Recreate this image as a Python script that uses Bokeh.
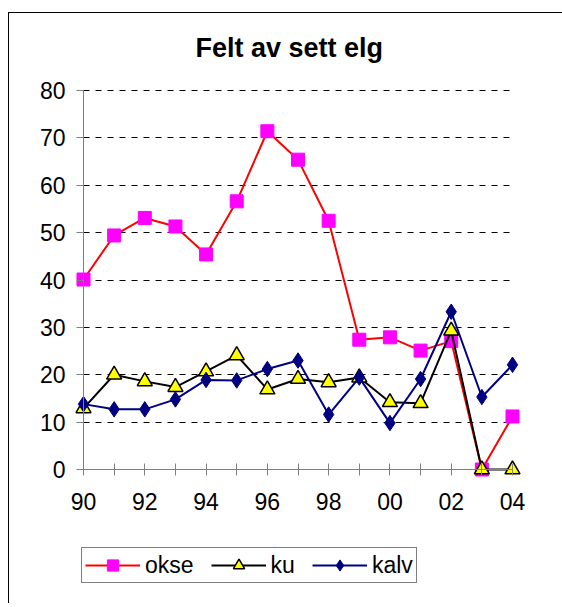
from bokeh.plotting import figure
from bokeh.models import FixedTicker, Legend, LegendItem, Range1d, LinearAxis, Grid
from bokeh.embed import file_html
from bokeh.resources import INLINE

years = ["90", "91", "92", "93", "94", "95", "96", "97", "98", "99", "00", "01", "02", "03", "04"]
okse = [40.1, 49.4, 53.1, 51.3, 45.4, 56.6, 71.4, 65.4, 52.5, 27.4, 27.9, 25.1, 27.1, 0, 11.2]
ku = [12.9, 20.0, 18.6, 17.4, 20.7, 24.1, 16.9, 19.1, 18.4, 19.4, 14.2, 14.0, 29.3, 0, 0]
kalv = [13.8, 12.7, 12.7, 14.8, 18.9, 18.8, 21.2, 23.0, 11.6, 19.4, 9.8, 19.1, 33.3, 15.3, 22.1]
y_ticks = [0, 10, 20, 30, 40, 50, 60, 70, 80]

xs = list(range(len(years)))
FONT = "Liberation Sans"

HAS_CROSS = "cross_bounds" in Grid.properties()

# layout (pixels)
W, H = 562, 603
FL = 20 if HAS_CROSS else 75
FR = 545 if HAS_CROSS else 520
FT, FB = 75, 600
X0_PX, X1_PX, Y0_PX, Y1_PX = 83, 512, 469, 90  # plot area of the original chart
px_x = (X1_PX - X0_PX) / (xs[-1] - xs[0])
px_y = (Y0_PX - Y1_PX) / (y_ticks[-1] - y_ticks[0])
x_start = xs[0] - (X0_PX - FL) / px_x
x_end = xs[-1] + (FR - X1_PX) / px_x
y_start = y_ticks[0] - (FB - Y0_PX) / px_y
y_end = y_ticks[-1] + (Y1_PX - FT) / px_y

p = figure(width=W, height=H, output_backend="svg", toolbar_location=None,
           x_range=Range1d(x_start, x_end), y_range=Range1d(y_start, y_end),
           min_border_left=FL, min_border_right=W - FR, min_border_top=FT, min_border_bottom=H - FB,
           title="Felt av sett elg")
p.margin = (0, 0, 0, 0)
p.styles = {"background": "linear-gradient(#000000, #000000) 8px 12px / 100% 1px no-repeat, "
                          "linear-gradient(#000000, #000000) 8px 12px / 1px 100% no-repeat, #ffffff"}
p.outline_line_color = None
p.background_fill_color = "white"
p.border_fill_color = None

p.title.text_font = FONT
p.title.text_font_size = "27px"
p.title.text_font_style = "bold"
p.title.text_color = "black"
p.title.align = "left"
p.title.offset = 195 - FL
p.title.standoff = 55 - 2 * (90 - FT)

ya = p.yaxis[0]
ya.ticker = FixedTicker(ticks=y_ticks)
ya.minor_tick_line_color = None
ya.major_tick_line_color = "#808080"
ya.major_label_text_font = FONT
ya.major_label_text_font_size = "23px"
ya.major_label_text_color = "black"
if HAS_CROSS:
    ya.fixed_location = xs[0]
    ya.bounds = (y_ticks[0], y_ticks[-1])
    ya.axis_line_color = "#808080"
    ya.major_tick_in = 0
    ya.major_tick_out = 7
    ya.major_label_standoff = 11
else:
    ya.axis_line_color = None
    ya.major_tick_in = X0_PX - FL
    ya.major_tick_out = 0
    ya.major_label_standoff = 10
    yline = LinearAxis(fixed_location=xs[0], bounds=(y_ticks[0], y_ticks[-1]),
                       ticker=FixedTicker(ticks=[]), axis_line_color="#808080",
                       major_tick_line_color=None, minor_tick_line_color=None)
    p.add_layout(yline, "left")

# x axis at y = 0
xa = p.xaxis[0]
xa.fixed_location = y_ticks[0]
xa.bounds = (xs[0], xs[-1])
xa.ticker = FixedTicker(ticks=[i for i in xs if i % 2 == 0], minor_ticks=[i for i in xs if i % 2 == 1])
xa.major_label_overrides = {i: years[i] for i in xs if i % 2 == 0}
xa.axis_line_color = "#808080"
xa.major_tick_line_color = "#808080"
xa.minor_tick_line_color = "#808080"
xa.major_tick_in = 6
xa.major_tick_out = 6
xa.minor_tick_in = 6
xa.minor_tick_out = 6
xa.major_label_standoff = 17
xa.major_label_text_font = FONT
xa.major_label_text_font_size = "23px"
xa.major_label_text_color = "black"

p.xgrid.grid_line_color = None
p.ygrid.grid_line_color = "black"
p.ygrid.grid_line_dash = "6 6"
p.ygrid.grid_line_width = 1
if HAS_CROSS:
    p.ygrid[0].cross_bounds = (xs[0], xs[-1])

# series
l1 = p.line(xs, okse, line_color="#FF0000", line_width=2)
m1 = p.scatter(xs, okse, marker="square", size=13, fill_color="#FF00FF", line_color="#FF00FF")
l2 = p.line(xs, ku, line_color="#000000", line_width=2)
m2 = p.scatter(xs, ku, marker="triangle", size=15, fill_color="#FFFF00", line_color="#000000", line_width=1.5)
l3 = p.line(xs, kalv, line_color="#000080", line_width=2)
m3 = p.scatter(xs, kalv, marker="diamond", size=15.5, fill_color="#000080", line_color="#000080")

legend = Legend(items=[LegendItem(label="okse", renderers=[l1, m1]),
                       LegendItem(label="ku", renderers=[l2, m2]),
                       LegendItem(label="kalv", renderers=[l3, m3])],
                orientation="horizontal", location=(81 - FL, FB - 583))
legend.label_text_font = FONT
legend.label_text_font_size = "23px"
legend.label_text_color = "black"
legend.glyph_width = 55
legend.glyph_height = 28
legend.label_height = 24
legend.label_standoff = 5
legend.spacing = 17
legend.padding = 3
legend.margin = 0
legend.border_line_color = "black"
legend.border_line_width = 1
legend.background_fill_color = "white"
legend.background_fill_alpha = 1
p.add_layout(legend, "center")

open("out.html", "w").write(file_html(p, INLINE))
